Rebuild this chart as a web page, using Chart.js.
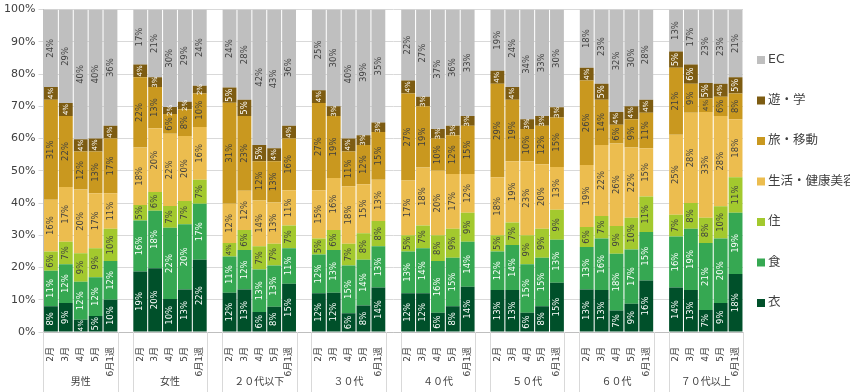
<!DOCTYPE html>
<html>
<head>
<meta charset="utf-8">
<script src="https://cdn.jsdelivr.net/npm/chart.js@4/dist/chart.umd.min.js"></script>
<style>
  body { margin: 0; background: #fff; }
</style>
</head>
<body>
<canvas id="shareChart" width="850" height="392"></canvas>
<script>

/* Data */

var groups = ['男性', '女性', '２０代以下', '３０代', '４０代', '５０代', '６０代', '７０代以上'];
var months = ['2月', '3月', '4月', '5月', '6月1週'];
var yTicks = [0, 10, 20, 30, 40, 50, 60, 70, 80, 90, 100];

// share in %, 5 values per group, groups in the order above
var ifuku = [8, 9, 3.8, 5, 10,  18.8, 19.8, 10.2, 13.2, 22.4,  12.2, 13.2, 6.2, 7.8, 15,  12, 12.2, 5.8, 8.2, 13.8,
             12, 12, 6, 8, 14,  13, 13, 6, 8, 15.3,  13.2, 13, 6.7, 8.8, 16,  13.8, 13, 6.8, 9, 18];
var shoku = [11, 12, 11.8, 12, 12,  15.8, 17.8, 22.1, 20.2, 17.4,  11.2, 12.2, 13.2, 12.8, 11,  12, 13.2, 14.8, 14.2, 12.8,
             13, 14, 16, 15, 14,  12, 14, 15, 15, 13.3,  13.2, 16, 17.6, 16.8, 15,  15.8, 19, 20.8, 20, 19];
var jyu = [6, 7, 8.8, 9, 10,  4.8, 5.8, 6.8, 7.2, 7.4,  4.2, 6.2, 7.2, 6.8, 7,  5, 6.2, 6.8, 8.2, 7.8,
           5, 7, 8, 9, 9,  5, 7, 9, 9, 9.3,  6.2, 7, 8.6, 9.8, 11,  6.8, 8, 7.8, 10, 11];
var seikatsu = [16, 17, 19.8, 17, 11,  17.8, 19.8, 22.4, 20.2, 16.4,  12.2, 12.2, 14.2, 12.8, 11,  15, 16.2, 17.8, 15.2, 12.8,
                17, 18, 20, 17, 12,  18, 19, 23, 20, 13.3,  19.2, 22, 25.6, 21.8, 15,  24.8, 28, 32.8, 28, 18];
var tabi = [31, 22, 11.8, 13, 17,  21.8, 12.8, 6.1, 8.3, 10.4,  31.3, 23.2, 12.2, 12.8, 16,  27, 19.2, 10.8, 12.2, 14.8,
            27, 19, 10, 12, 15,  29, 19, 10, 12, 15.3,  26.2, 14, 5.8, 8.8, 11,  20.8, 9, 4.2, 6, 8];
var asobi = [4, 4, 3.8, 4, 4,  4, 3, 2.2, 2.3, 2.4,  4.7, 5, 5, 4, 4,  4, 3, 4, 3, 3,
             4, 3, 3, 3, 3,  4, 4, 3, 3, 3.2,  4, 5, 3.9, 4, 4,  5, 6, 4.8, 4, 5];
var ec = [24, 29, 40.2, 40, 36,  17, 21, 30.2, 28.6, 23.6,  24.2, 28, 42, 43, 36,  25, 30, 40, 39, 35,
          22, 27, 37, 36, 33,  19, 24, 34, 33, 30.3,  18, 23, 31.8, 30, 28,  13, 17, 22.8, 23, 21];


/* build the category axis: 5 months per group, one empty slot between groups */

var labels = [];
groups.forEach(function (g, gi) {
  months.forEach(function (m) { labels.push(m); });
  if (gi < groups.length - 1) labels.push('');
});

function spread(arr) {
  var out = [];
  groups.forEach(function (g, gi) {
    for (var k = 0; k < months.length; k++) out.push(arr[gi * months.length + k]);
    if (gi < groups.length - 1) out.push(null);
  });
  return out;
}

var series = [
  { label: '衣', data: ifuku, color: '#00502a', text: '#ffffff' },
  { label: '食', data: shoku, color: '#36a852', text: '#ffffff' },
  { label: '住', data: jyu, color: '#a3c92e', text: '#404040' },
  { label: '生活・健康美容', data: seikatsu, color: '#ecbd4f', text: '#404040' },
  { label: '旅・移動', data: tabi, color: '#c9981f', text: '#404040' },
  { label: '遊・学', data: asobi, color: '#7d5c12', text: '#ffffff' },
  { label: 'EC', data: ec, color: '#bfbfbf', text: '#404040' }
];

var FONT = "'DejaVu Sans', 'Noto Sans CJK JP', sans-serif";


/* Value labels, rotated, centred in each segment */

var barLabels = {
  id: 'barLabels',
  afterDatasetsDraw: function (chart) {
    var ctx = chart.ctx;
    var area = chart.chartArea;
    chart.data.datasets.forEach(function (ds, di) {
      var meta = chart.getDatasetMeta(di);
      meta.data.forEach(function (bar, i) {
        var v = ds.data[i];
        if (v == null) return;
        var pct = Math.round(v);
        var top = Math.max(bar.y, area.top);
        var cy = (top + bar.base) / 2;
        ctx.save();
        ctx.translate(bar.x, cy);
        ctx.rotate(-Math.PI / 2);
        ctx.font = (pct < 5 ? '7px ' : '8.5px ') + FONT;
        ctx.fillStyle = series[di].text;
        ctx.textAlign = 'center';
        ctx.textBaseline = 'middle';
        ctx.fillText(pct + '%', 0, 0);
        ctx.restore();
      });
    });
  }
};


/* Group separators + group names under the month labels, and the legend */

var groupAxis = {
  id: 'groupAxis',
  afterDraw: function (chart) {
    var ctx = chart.ctx;
    var x = chart.scales.x;
    var bottom = chart.chartArea.bottom;
    var slot = x.getPixelForValue(1) - x.getPixelForValue(0);
    var step = months.length + 1;

    ctx.save();
    ctx.strokeStyle = '#d9d9d9';
    ctx.lineWidth = 1;
    groups.forEach(function (g, gi) {
      var first = gi * step;
      var last = first + months.length - 1;
      var left = Math.round(x.getPixelForValue(first) - slot / 2) + 0.5;
      var right = Math.round(x.getPixelForValue(last) + slot / 2) + 0.5;
      ctx.beginPath();
      ctx.moveTo(left, bottom);
      ctx.lineTo(left, chart.height);
      ctx.moveTo(right, bottom);
      ctx.lineTo(right, chart.height);
      ctx.stroke();

      ctx.fillStyle = '#404040';
      ctx.font = '10px ' + FONT;
      ctx.textAlign = 'center';
      ctx.textBaseline = 'middle';
      ctx.fillText(g, (x.getPixelForValue(first) + x.getPixelForValue(last)) / 2, 382);
    });

    // legend, EC on top
    var lx = 757, ly = 60, gap = 40.5;
    ctx.font = '12.5px ' + FONT;
    ctx.textAlign = 'left';
    ctx.textBaseline = 'middle';
    for (var i = series.length - 1; i >= 0; i--) {
      var y = ly + (series.length - 1 - i) * gap;
      ctx.fillStyle = series[i].color;
      ctx.fillRect(lx, y - 4, 8, 8);
      ctx.fillStyle = '#404040';
      ctx.fillText(series[i].label, lx + 11, y);
    }
    ctx.restore();
  }
};


var ctx = document.getElementById('shareChart');
var shareChart = new Chart(ctx, {
  type: 'bar',
  data: {
    labels: labels,
    datasets: series.map(function (s) {
      return {
        label: s.label,
        data: spread(s.data),
        backgroundColor: s.color,
        borderWidth: 0,
        barPercentage: 0.93,
        categoryPercentage: 1
      };
    })
  },
  options: {
    responsive: false,
    animation: false,
    layout: { padding: { top: 9, right: 107, bottom: 0, left: 4 } },
    plugins: {
      legend: { display: false },
      tooltip: { enabled: false }
    },
    scales: {
      x: {
        stacked: true,
        offset: true,
        grid: { display: false },
        border: { color: '#bfbfbf' },
        afterFit: function (scale) { scale.height = 60; },
        ticks: {
          autoSkip: false,
          minRotation: 90,
          maxRotation: 90,
          padding: 7,
          color: '#404040',
          font: { family: FONT, size: 9 }
        }
      },
      y: {
        stacked: true,
        min: 0,
        max: 100,
        afterBuildTicks: function (axis) {
          axis.ticks = yTicks.map(function (v) { return { value: v }; });
        },
        afterFit: function (scale) { scale.width = 39.5; },
        grid: { color: '#d9d9d9', tickLength: 5 },
        border: { color: '#bfbfbf' },
        ticks: {
          padding: 3,
          color: '#404040',
          font: { family: FONT, size: 11 },
          callback: function (v) { return v + '%'; }
        }
      }
    }
  },
  plugins: [barLabels, groupAxis]
});

</script>
</body>
</html>
